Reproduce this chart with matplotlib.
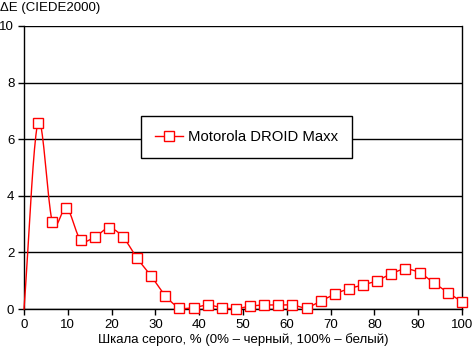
import numpy as np
import matplotlib
matplotlib.use("Agg")
import matplotlib.pyplot as plt

plt.rcParams['font.family'] = ['Liberation Sans', 'DejaVu Sans']

gray_pct = [0, 3.2, 6.5, 9.7, 12.9, 16.1, 19.4, 22.6, 25.8, 29.0, 32.3, 35.5,
            38.7, 41.9, 45.2, 48.4, 51.6, 54.8, 58.1, 61.3, 64.5, 67.7, 71.0,
            74.2, 77.4, 80.6, 83.9, 87.1, 90.3, 93.5, 96.8, 100]
delta_e = [0, 6.58, 3.07, 3.58, 2.45, 2.54, 2.86, 2.54, 1.80, 1.17, 0.46, 0.05,
           0.05, 0.14, 0.05, 0.01, 0.10, 0.14, 0.14, 0.14, 0.05, 0.28, 0.53,
           0.72, 0.85, 1.00, 1.25, 1.41, 1.28, 0.93, 0.58, 0.25]
series_name = "Motorola DROID Maxx"
x_ticks = [0, 10, 20, 30, 40, 50, 60, 70, 80, 90, 100]
y_ticks = [0, 2, 4, 6, 8, 10]


def smooth(xs, ys, n=20):
    xs = np.asarray(xs, float)
    ys = np.asarray(ys, float)
    px = np.concatenate([[2 * xs[0] - xs[1]], xs, [2 * xs[-1] - xs[-2]]])
    py = np.concatenate([[2 * ys[0] - ys[1]], ys, [2 * ys[-1] - ys[-2]]])
    ox, oy = [], []
    t = np.linspace(0, 1, n, endpoint=False)
    for i in range(1, len(px) - 2):
        for arr, out in ((px, ox), (py, oy)):
            p0, p1, p2, p3 = arr[i - 1], arr[i], arr[i + 1], arr[i + 2]
            out.extend(0.5 * ((2 * p1) + (-p0 + p2) * t
                              + (2 * p0 - 5 * p1 + 4 * p2 - p3) * t ** 2
                              + (-p0 + 3 * p1 - 3 * p2 + p3) * t ** 3))
    ox.append(xs[-1])
    oy.append(ys[-1])
    return np.array(ox), np.array(oy)


fig = plt.figure(figsize=(4.72, 3.52), dpi=100)
ax = fig.add_axes([24 / 472, 1 - 309 / 352, (462 - 24) / 472, (309 - 26) / 352])

sx, sy = smooth(gray_pct, delta_e)
ax.plot(sx, sy, color='red', lw=1, zorder=3, clip_on=False)
ax.plot(gray_pct[1:], delta_e[1:], ls='none', marker='s', ms=6.5, mfc='white',
        mec='red', mew=1, zorder=4, clip_on=False)
handle, = ax.plot([], [], color='red', lw=1, marker='s', ms=6.5, mfc='white',
                  mec='red', mew=1)

ax.set_xlim(0, 100)
ax.set_ylim(0, 10)
ax.set_xticks(x_ticks)
ax.set_yticks(y_ticks)
ax.grid(axis='y', color='black', lw=1)
ax.set_axisbelow(True)
ax.spines['top'].set_visible(False)
for s in ['left', 'right', 'bottom']:
    ax.spines[s].set_linewidth(1)
ax.tick_params(direction='out', length=4, width=1, labelsize=9.5, pad=3)

ax.set_xlabel("Шкала серого, % (0% – черный, 100% – белый)", fontsize=9.5, labelpad=2)
fig.text(0, 1 - 8 / 352, "ΔE (CIEDE2000)", fontsize=9.5, va='center', ha='left')

leg = ax.legend([handle], [series_name], loc='upper left',
                bbox_to_anchor=((141 - 24) / 438, (309 - 115.7) / 283),
                fontsize=10.7, frameon=True, fancybox=False, framealpha=1,
                edgecolor='black', borderpad=0.95, handlelength=1.9,
                handletextpad=0.3, borderaxespad=0)
leg.get_frame().set_linewidth(1)

fig.savefig("out.png", dpi=100)
